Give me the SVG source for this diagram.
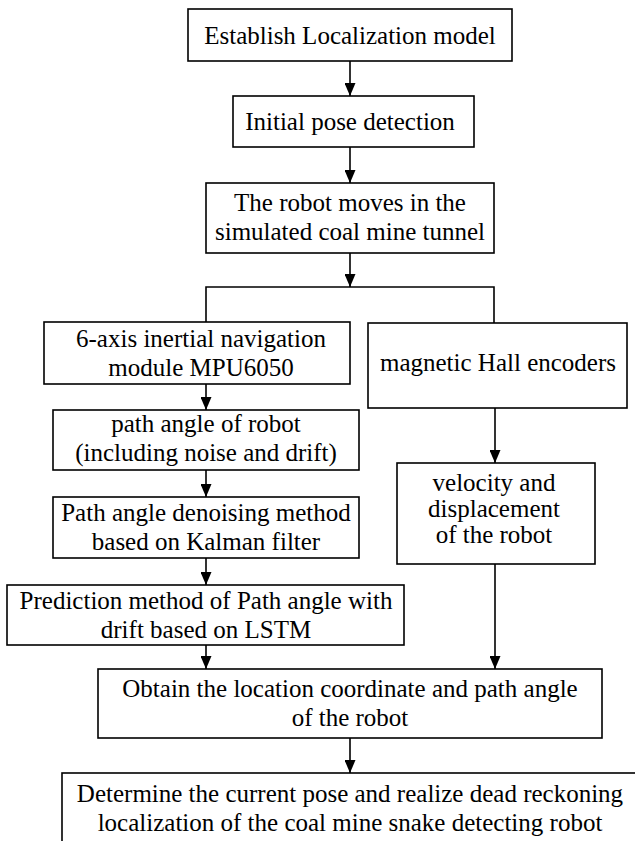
<svg xmlns="http://www.w3.org/2000/svg" width="635" height="841" viewBox="0 0 635 841">
<style>
.box{fill:#fff;stroke:#000;stroke-width:1.6}
.t{font-family:"Liberation Serif","Times New Roman",serif;font-size:25px;fill:#000;text-anchor:middle}
.ln{fill:none;stroke:#000;stroke-width:1.6}
</style>
<defs>
<marker id="ah" markerUnits="userSpaceOnUse" markerWidth="13" markerHeight="11" refX="13" refY="5.5" orient="auto">
<path d="M0,0 L13,5.5 L0,11 Z" fill="#000"/>
</marker>
</defs>
<rect width="635" height="841" fill="#fff"/>
<g id="connectors">
<line class="ln" x1="350" y1="61" x2="350" y2="96" marker-end="url(#ah)"/>
<line class="ln" x1="350" y1="147" x2="350" y2="183" marker-end="url(#ah)"/>
<line class="ln" x1="350" y1="253" x2="350" y2="287" marker-end="url(#ah)"/>
<polyline class="ln" points="206,322 206,287 494,287 494,323"/>
<line class="ln" x1="206" y1="384" x2="206" y2="410" marker-end="url(#ah)"/>
<line class="ln" x1="206" y1="470" x2="206" y2="497" marker-end="url(#ah)"/>
<line class="ln" x1="206" y1="558" x2="206" y2="585" marker-end="url(#ah)"/>
<line class="ln" x1="206" y1="645" x2="206" y2="669" marker-end="url(#ah)"/>
<line class="ln" x1="495" y1="408" x2="495" y2="463" marker-end="url(#ah)"/>
<line class="ln" x1="495" y1="564" x2="495" y2="669" marker-end="url(#ah)"/>
<line class="ln" x1="350" y1="738" x2="350" y2="773" marker-end="url(#ah)"/>
</g>
<g id="n1">
<rect class="box" x="188" y="9" width="324" height="52"/>
<text class="t" x="350" y="43.5">Establish Localization model</text>
</g>
<g id="n2">
<rect class="box" x="233" y="96" width="241" height="51"/>
<text class="t" x="350" y="130">Initial pose detection</text>
</g>
<g id="n3">
<rect class="box" x="206" y="183" width="288" height="70"/>
<text class="t" x="350" y="211">The robot moves in the</text>
<text class="t" x="350" y="240">simulated coal mine tunnel</text>
</g>
<g id="n4">
<rect class="box" x="44" y="322" width="306" height="62"/>
<text class="t" x="201" y="347">6-axis inertial navigation</text>
<text class="t" x="201" y="376">module MPU6050</text>
</g>
<g id="n5">
<rect class="box" x="368" y="323" width="259" height="85"/>
<text class="t" x="498" y="371">magnetic Hall encoders</text>
</g>
<g id="n6">
<rect class="box" x="53" y="410" width="306" height="60"/>
<text class="t" x="206" y="432">path angle of robot</text>
<text class="t" x="206" y="461">(including noise and drift)</text>
</g>
<g id="n7">
<rect class="box" x="53" y="497" width="306" height="61"/>
<text class="t" x="206" y="521">Path angle denoising method</text>
<text class="t" x="206" y="550">based on Kalman filter</text>
</g>
<g id="n8">
<rect class="box" x="7" y="585" width="397" height="60"/>
<text class="t" x="206" y="609">Prediction method of Path angle with</text>
<text class="t" x="206" y="638">drift based on LSTM</text>
</g>
<g id="n9">
<rect class="box" x="397" y="463" width="198" height="101"/>
<text class="t" x="494" y="491">velocity and</text>
<text class="t" x="494" y="517">displacement</text>
<text class="t" x="494" y="543">of the robot</text>
</g>
<g id="n10">
<rect class="box" x="98" y="669" width="504" height="69"/>
<text class="t" x="350" y="697">Obtain the location coordinate and path angle</text>
<text class="t" x="350" y="726">of the robot</text>
</g>
<g id="n11">
<rect class="box" x="62" y="773" width="576" height="100"/>
<text class="t" x="350" y="802">Determine the current pose and realize dead reckoning</text>
<text class="t" x="350" y="831">localization of the coal mine snake detecting robot</text>
</g>
</svg>
